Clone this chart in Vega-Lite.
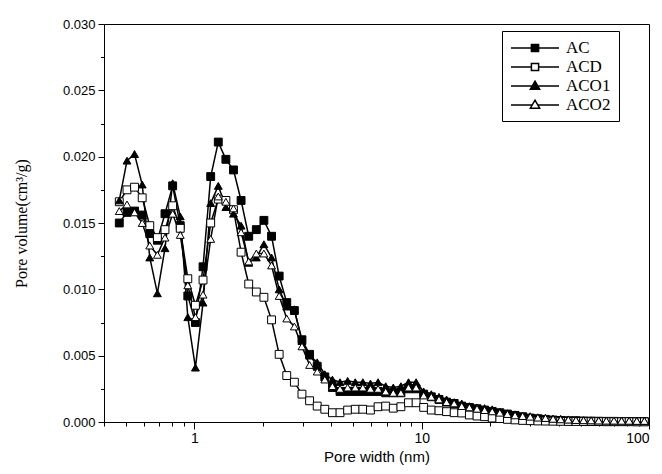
{
  "$schema": "https://vega.github.io/schema/vega-lite/v6.json",
  "width": 545,
  "height": 398,
  "autosize": {"type": "none"},
  "padding": {"left": 104, "top": 24, "right": 13, "bottom": 52},
  "background": "white",
  "config": {
    "view": {"stroke": "black", "strokeWidth": 1},
    "axis": {"domainColor": "black", "tickColor": "black", "labelColor": "black", "titleColor": "black", "grid": false, "domainWidth": 1, "tickWidth": 1}
  },
  "data": {"values": [
    {"s":"AC","x":0.467,"v":0.0150},{"s":"AC","x":0.505,"v":0.0158},{"s":"AC","x":0.545,"v":0.0159},{"s":"AC","x":0.589,"v":0.0156},{"s":"AC","x":0.636,"v":0.0142},{"s":"AC","x":0.687,"v":0.0137},{"s":"AC","x":0.742,"v":0.0157},{"s":"AC","x":0.802,"v":0.0178},{"s":"AC","x":0.866,"v":0.0148},{"s":"AC","x":0.935,"v":0.0095},
    {"s":"AC","x":1.01,"v":0.0075},{"s":"AC","x":1.091,"v":0.0117},{"s":"AC","x":1.179,"v":0.0185},{"s":"AC","x":1.273,"v":0.0211},{"s":"AC","x":1.375,"v":0.0198},{"s":"AC","x":1.485,"v":0.0190},{"s":"AC","x":1.604,"v":0.0167},{"s":"AC","x":1.733,"v":0.0140},{"s":"AC","x":1.872,"v":0.0145},{"s":"AC","x":2.021,"v":0.0152},
    {"s":"AC","x":2.184,"v":0.0140},{"s":"AC","x":2.359,"v":0.0110},{"s":"AC","x":2.548,"v":0.0090},{"s":"AC","x":2.752,"v":0.0084},{"s":"AC","x":2.972,"v":0.0062},{"s":"AC","x":3.211,"v":0.0051},{"s":"AC","x":3.468,"v":0.0042},{"s":"AC","x":3.746,"v":0.0034},{"s":"AC","x":4.046,"v":0.0026},{"s":"AC","x":4.37,"v":0.0023},
    {"s":"AC","x":4.721,"v":0.0023},{"s":"AC","x":5.099,"v":0.0023},{"s":"AC","x":5.508,"v":0.0023},{"s":"AC","x":5.949,"v":0.0023},{"s":"AC","x":6.426,"v":0.0023},{"s":"AC","x":6.941,"v":0.0022},{"s":"AC","x":7.497,"v":0.0022},{"s":"AC","x":8.098,"v":0.0022},{"s":"AC","x":8.747,"v":0.0025},{"s":"AC","x":9.447,"v":0.0025},
    {"s":"AC","x":10.2,"v":0.0021},{"s":"AC","x":11.02,"v":0.0019},{"s":"AC","x":11.91,"v":0.0017},{"s":"AC","x":12.86,"v":0.0015},{"s":"AC","x":13.89,"v":0.0014},{"s":"AC","x":15.0,"v":0.0012},{"s":"AC","x":16.21,"v":0.0011},{"s":"AC","x":17.51,"v":0.0010},{"s":"AC","x":18.91,"v":0.0009},{"s":"AC","x":20.42,"v":0.0008},
    {"s":"AC","x":22.06,"v":0.0007},{"s":"AC","x":23.83,"v":0.0006},{"s":"AC","x":25.74,"v":0.0005},{"s":"AC","x":27.8,"v":0.0004},{"s":"AC","x":30.03,"v":0.0003},{"s":"AC","x":32.43,"v":0.00025},{"s":"AC","x":35.03,"v":0.0002},{"s":"AC","x":37.84,"v":0.00015},{"s":"AC","x":40.87,"v":0.00012},{"s":"AC","x":44.15,"v":0.0001},
    {"s":"AC","x":47.69,"v":0.0001},{"s":"AC","x":51.51,"v":0.00008},{"s":"AC","x":55.64,"v":0.00007},{"s":"AC","x":60.09,"v":0.00006},{"s":"AC","x":64.91,"v":0.00005},{"s":"AC","x":70.11,"v":0.00005},{"s":"AC","x":75.73,"v":0.00004},{"s":"AC","x":81.8,"v":0.00004},{"s":"AC","x":88.35,"v":0.00003},{"s":"AC","x":95.43,"v":0.00003},

    {"s":"ACD","x":0.467,"v":0.0166},{"s":"ACD","x":0.505,"v":0.0175},{"s":"ACD","x":0.545,"v":0.0177},{"s":"ACD","x":0.589,"v":0.0169},{"s":"ACD","x":0.636,"v":0.0148},{"s":"ACD","x":0.687,"v":0.0139},{"s":"ACD","x":0.742,"v":0.0145},{"s":"ACD","x":0.802,"v":0.0163},{"s":"ACD","x":0.866,"v":0.0146},{"s":"ACD","x":0.935,"v":0.0108},
    {"s":"ACD","x":1.01,"v":0.0088},{"s":"ACD","x":1.091,"v":0.0107},{"s":"ACD","x":1.179,"v":0.0150},{"s":"ACD","x":1.273,"v":0.0168},{"s":"ACD","x":1.375,"v":0.0167},{"s":"ACD","x":1.485,"v":0.0160},{"s":"ACD","x":1.604,"v":0.0128},{"s":"ACD","x":1.733,"v":0.0104},{"s":"ACD","x":1.872,"v":0.0098},{"s":"ACD","x":2.021,"v":0.0094},
    {"s":"ACD","x":2.184,"v":0.0077},{"s":"ACD","x":2.359,"v":0.0051},{"s":"ACD","x":2.548,"v":0.0035},{"s":"ACD","x":2.752,"v":0.0030},{"s":"ACD","x":2.972,"v":0.0021},{"s":"ACD","x":3.211,"v":0.0016},{"s":"ACD","x":3.468,"v":0.0012},{"s":"ACD","x":3.746,"v":0.00096},{"s":"ACD","x":4.046,"v":0.0007},{"s":"ACD","x":4.37,"v":0.0007},
    {"s":"ACD","x":4.721,"v":0.0009},{"s":"ACD","x":5.099,"v":0.00096},{"s":"ACD","x":5.508,"v":0.00096},{"s":"ACD","x":5.949,"v":0.0009},{"s":"ACD","x":6.426,"v":0.00115},{"s":"ACD","x":6.941,"v":0.0012},{"s":"ACD","x":7.497,"v":0.00104},{"s":"ACD","x":8.098,"v":0.00115},{"s":"ACD","x":8.747,"v":0.00145},{"s":"ACD","x":9.447,"v":0.00145},
    {"s":"ACD","x":10.2,"v":0.0011},{"s":"ACD","x":11.02,"v":0.0009},{"s":"ACD","x":11.91,"v":0.00085},{"s":"ACD","x":12.86,"v":0.00078},{"s":"ACD","x":13.89,"v":0.0007},{"s":"ACD","x":15.0,"v":0.00068},{"s":"ACD","x":16.21,"v":0.00053},{"s":"ACD","x":17.51,"v":0.00045},{"s":"ACD","x":18.91,"v":0.0004},{"s":"ACD","x":20.42,"v":0.0003},
    {"s":"ACD","x":22.06,"v":0.00026},{"s":"ACD","x":23.83,"v":0.0002},{"s":"ACD","x":25.74,"v":0.00016},{"s":"ACD","x":27.8,"v":0.00012},{"s":"ACD","x":30.03,"v":0.0001},{"s":"ACD","x":32.43,"v":0.00008},{"s":"ACD","x":35.03,"v":0.00007},{"s":"ACD","x":37.84,"v":0.00006},{"s":"ACD","x":40.87,"v":0.00005},{"s":"ACD","x":44.15,"v":0.00004},
    {"s":"ACD","x":47.69,"v":0.00004},{"s":"ACD","x":51.51,"v":0.00003},{"s":"ACD","x":55.64,"v":0.00003},{"s":"ACD","x":60.09,"v":0.00003},{"s":"ACD","x":64.91,"v":0.00002},{"s":"ACD","x":70.11,"v":0.00002},{"s":"ACD","x":75.73,"v":0.00002},{"s":"ACD","x":81.8,"v":0.00002},{"s":"ACD","x":88.35,"v":0.00001},{"s":"ACD","x":95.43,"v":0.00001},

    {"s":"ACO1","x":0.467,"v":0.0167},{"s":"ACO1","x":0.505,"v":0.0197},{"s":"ACO1","x":0.545,"v":0.0202},{"s":"ACO1","x":0.589,"v":0.0179},{"s":"ACO1","x":0.636,"v":0.0124},{"s":"ACO1","x":0.687,"v":0.0097},{"s":"ACO1","x":0.742,"v":0.0131},{"s":"ACO1","x":0.802,"v":0.0180},{"s":"ACO1","x":0.866,"v":0.0155},{"s":"ACO1","x":0.935,"v":0.0079},
    {"s":"ACO1","x":1.01,"v":0.0041},{"s":"ACO1","x":1.091,"v":0.0090},{"s":"ACO1","x":1.179,"v":0.0165},{"s":"ACO1","x":1.273,"v":0.0178},{"s":"ACO1","x":1.375,"v":0.0162},{"s":"ACO1","x":1.485,"v":0.0157},{"s":"ACO1","x":1.604,"v":0.0148},{"s":"ACO1","x":1.733,"v":0.0120},{"s":"ACO1","x":1.872,"v":0.0124},{"s":"ACO1","x":2.021,"v":0.0134},
    {"s":"ACO1","x":2.184,"v":0.0124},{"s":"ACO1","x":2.359,"v":0.0100},{"s":"ACO1","x":2.548,"v":0.0087},{"s":"ACO1","x":2.752,"v":0.0085},{"s":"ACO1","x":2.972,"v":0.0061},{"s":"ACO1","x":3.211,"v":0.0050},{"s":"ACO1","x":3.468,"v":0.0045},{"s":"ACO1","x":3.746,"v":0.0036},{"s":"ACO1","x":4.046,"v":0.0032},{"s":"ACO1","x":4.37,"v":0.0030},
    {"s":"ACO1","x":4.721,"v":0.0031},{"s":"ACO1","x":5.099,"v":0.0030},{"s":"ACO1","x":5.508,"v":0.0030},{"s":"ACO1","x":5.949,"v":0.0029},{"s":"ACO1","x":6.426,"v":0.0030},{"s":"ACO1","x":6.941,"v":0.0027},{"s":"ACO1","x":7.497,"v":0.0026},{"s":"ACO1","x":8.098,"v":0.0027},{"s":"ACO1","x":8.747,"v":0.0030},{"s":"ACO1","x":9.447,"v":0.0030},
    {"s":"ACO1","x":10.2,"v":0.0023},{"s":"ACO1","x":11.02,"v":0.0021},{"s":"ACO1","x":11.91,"v":0.0019},{"s":"ACO1","x":12.86,"v":0.0017},{"s":"ACO1","x":13.89,"v":0.0015},{"s":"ACO1","x":15.0,"v":0.0014},{"s":"ACO1","x":16.21,"v":0.0012},{"s":"ACO1","x":17.51,"v":0.0011},{"s":"ACO1","x":18.91,"v":0.00105},{"s":"ACO1","x":20.42,"v":0.00096},
    {"s":"ACO1","x":22.06,"v":0.00078},{"s":"ACO1","x":23.83,"v":0.00066},{"s":"ACO1","x":25.74,"v":0.00058},{"s":"ACO1","x":27.8,"v":0.00048},{"s":"ACO1","x":30.03,"v":0.00044},{"s":"ACO1","x":32.43,"v":0.00036},{"s":"ACO1","x":35.03,"v":0.00032},{"s":"ACO1","x":37.84,"v":0.00026},{"s":"ACO1","x":40.87,"v":0.00024},{"s":"ACO1","x":44.15,"v":0.0002},
    {"s":"ACO1","x":47.69,"v":0.00016},{"s":"ACO1","x":51.51,"v":0.00014},{"s":"ACO1","x":55.64,"v":0.00013},{"s":"ACO1","x":60.09,"v":0.00012},{"s":"ACO1","x":64.91,"v":0.00011},{"s":"ACO1","x":70.11,"v":0.0001},{"s":"ACO1","x":75.73,"v":0.0001},{"s":"ACO1","x":81.8,"v":0.00009},{"s":"ACO1","x":88.35,"v":0.00009},{"s":"ACO1","x":95.43,"v":0.00008},

    {"s":"ACO2","x":0.467,"v":0.0159},{"s":"ACO2","x":0.505,"v":0.0164},{"s":"ACO2","x":0.545,"v":0.0158},{"s":"ACO2","x":0.589,"v":0.0150},{"s":"ACO2","x":0.636,"v":0.0133},{"s":"ACO2","x":0.687,"v":0.0126},{"s":"ACO2","x":0.742,"v":0.0139},{"s":"ACO2","x":0.802,"v":0.0157},{"s":"ACO2","x":0.866,"v":0.0141},{"s":"ACO2","x":0.935,"v":0.0103},
    {"s":"ACO2","x":1.01,"v":0.0079},{"s":"ACO2","x":1.091,"v":0.0096},{"s":"ACO2","x":1.179,"v":0.0138},{"s":"ACO2","x":1.273,"v":0.0170},{"s":"ACO2","x":1.375,"v":0.0166},{"s":"ACO2","x":1.485,"v":0.0161},{"s":"ACO2","x":1.604,"v":0.0143},{"s":"ACO2","x":1.733,"v":0.0121},{"s":"ACO2","x":1.872,"v":0.0127},{"s":"ACO2","x":2.021,"v":0.0127},
    {"s":"ACO2","x":2.184,"v":0.0118},{"s":"ACO2","x":2.359,"v":0.0095},{"s":"ACO2","x":2.548,"v":0.0078},{"s":"ACO2","x":2.752,"v":0.0072},{"s":"ACO2","x":2.972,"v":0.0057},{"s":"ACO2","x":3.211,"v":0.0043},{"s":"ACO2","x":3.468,"v":0.0038},{"s":"ACO2","x":3.746,"v":0.0032},{"s":"ACO2","x":4.046,"v":0.0027},{"s":"ACO2","x":4.37,"v":0.0025},
    {"s":"ACO2","x":4.721,"v":0.0026},{"s":"ACO2","x":5.099,"v":0.0026},{"s":"ACO2","x":5.508,"v":0.0026},{"s":"ACO2","x":5.949,"v":0.0025},{"s":"ACO2","x":6.426,"v":0.0025},{"s":"ACO2","x":6.941,"v":0.0023},{"s":"ACO2","x":7.497,"v":0.0022},{"s":"ACO2","x":8.098,"v":0.0022},{"s":"ACO2","x":8.747,"v":0.0026},{"s":"ACO2","x":9.447,"v":0.0026},
    {"s":"ACO2","x":10.2,"v":0.0020},{"s":"ACO2","x":11.02,"v":0.0019},{"s":"ACO2","x":11.91,"v":0.0017},{"s":"ACO2","x":12.86,"v":0.0015},{"s":"ACO2","x":13.89,"v":0.0014},{"s":"ACO2","x":15.0,"v":0.0012},{"s":"ACO2","x":16.21,"v":0.0011},{"s":"ACO2","x":17.51,"v":0.0010},{"s":"ACO2","x":18.91,"v":0.0009},{"s":"ACO2","x":20.42,"v":0.0008},
    {"s":"ACO2","x":22.06,"v":0.0007},{"s":"ACO2","x":23.83,"v":0.0006},{"s":"ACO2","x":25.74,"v":0.0005},{"s":"ACO2","x":27.8,"v":0.00045},{"s":"ACO2","x":30.03,"v":0.0004},{"s":"ACO2","x":32.43,"v":0.00033},{"s":"ACO2","x":35.03,"v":0.0003},{"s":"ACO2","x":37.84,"v":0.00024},{"s":"ACO2","x":40.87,"v":0.0002},{"s":"ACO2","x":44.15,"v":0.00018},
    {"s":"ACO2","x":47.69,"v":0.00015},{"s":"ACO2","x":51.51,"v":0.00013},{"s":"ACO2","x":55.64,"v":0.00012},{"s":"ACO2","x":60.09,"v":0.00011},{"s":"ACO2","x":64.91,"v":0.0001},{"s":"ACO2","x":70.11,"v":0.0001},{"s":"ACO2","x":75.73,"v":0.00009},{"s":"ACO2","x":81.8,"v":0.00009},{"s":"ACO2","x":88.35,"v":0.00008},{"s":"ACO2","x":95.43,"v":0.00008}
  ]},
  "resolve": {"axis": {"x": "independent", "y": "independent"}, "scale": {"shape": "independent", "fill": "independent"}},
  "layer": [
    {
      "mark": {"type": "line", "color": "black", "strokeWidth": 1.5},
      "encoding": {
        "x": {"field": "x", "type": "quantitative", "scale": {"type": "log", "domain": [0.4, 100], "nice": false},
          "axis": {"orient": "bottom", "values": [1, 10, 100], "format": "~g", "tickSize": 7, "labelPadding": 2, "labelFont": "Liberation Sans", "labelFontSize": 14, "title": "Pore width (nm)", "titleFont": "Liberation Sans", "titleFontSize": 15, "titleFontWeight": "normal", "titlePadding": 4}},
        "y": {"field": "v", "type": "quantitative", "scale": {"domain": [0, 0.03], "nice": false, "zero": false},
          "axis": {"orient": "left", "values": [0,0.005,0.01,0.015,0.02,0.025,0.03], "format": ".3f", "tickSize": 6, "labelPadding": 3, "labelFont": "Liberation Sans", "labelFontSize": 13, "title": "Pore volume(cm³/g)", "titleFont": "Liberation Serif", "titleFontSize": 16, "titleFontWeight": "normal", "titlePadding": 33}},
        "detail": {"field": "s"}
      }
    },
    {
      "mark": {"type": "point", "opacity": 1, "filled": true, "stroke": "black", "strokeWidth": 1, "size": 62},
      "encoding": {
        "x": {"field": "x", "type": "quantitative", "scale": {"type": "log", "domain": [0.4, 100], "nice": false}, "axis": null},
        "y": {"field": "v", "type": "quantitative", "scale": {"domain": [0, 0.03], "nice": false, "zero": false}, "axis": null},
        "shape": {"field": "s", "type": "nominal", "scale": {"domain": ["AC","ACD","ACO1","ACO2"], "range": ["square","square","triangle-up","triangle-up"]}, "legend": null},
        "fill": {"field": "s", "type": "nominal", "scale": {"domain": ["AC","ACD","ACO1","ACO2"], "range": ["black","white","black","white"]}, "legend": null}
      }
    },
    {
      "transform": [{"filter": "datum.v < 0"}],
      "mark": {"type": "point", "opacity": 1, "filled": true, "stroke": "black", "strokeWidth": 1.5, "size": 256},
      "encoding": {
        "x": {"field": "x", "type": "quantitative", "scale": {"type": "log", "domain": [0.4, 100], "nice": false}, "axis": null},
        "y": {"field": "v", "type": "quantitative", "scale": {"domain": [0, 0.03], "nice": false, "zero": false}, "axis": null},
        "shape": {"field": "s", "type": "nominal", "scale": {"domain": ["AC","ACD","ACO1","ACO2"], "range": ["M-1,0H1.55M2.45,0H5M1.55,-0.45H2.45V0.45H1.55Z","M-1,0H1.55M2.45,0H5M1.55,-0.45H2.45V0.45H1.55Z","M-1,0H1.65M2.35,0H5M2,-0.6L2.58,0.4H1.42Z","M-1,0H1.65M2.35,0H5M2,-0.6L2.58,0.4H1.42Z"]},
          "legend": {"title": null, "orient": "none", "legendX": 398, "legendY": 7, "padding": 8, "rowPadding": 2, "labelFont": "Liberation Serif", "labelFontSize": 17, "labelColor": "black", "labelOffset": 38, "strokeColor": "black", "fillColor": "white", "symbolSize": 256,
            "encode": {"symbols": {"stroke": {"value": "black"}, "strokeWidth": {"value": 1.5}, "opacity": {"value": 1}}}}},
        "fill": {"field": "s", "type": "nominal", "scale": {"domain": ["AC","ACD","ACO1","ACO2"], "range": ["black","white","black","white"]},
          "legend": {"title": null, "orient": "none", "legendX": 398, "legendY": 7, "padding": 8, "rowPadding": 2, "labelFont": "Liberation Serif", "labelFontSize": 17, "labelColor": "black", "labelOffset": 38, "strokeColor": "black", "fillColor": "white", "symbolSize": 256,
            "encode": {"symbols": {"stroke": {"value": "black"}, "strokeWidth": {"value": 1.5}, "opacity": {"value": 1}}}}}
      }
    },
    {
      "mark": {"type": "text", "text": ""},
      "encoding": {
        "x": {"field": "x", "type": "quantitative", "scale": {"type": "log", "domain": [0.4, 100], "nice": false},
          "axis": {"orient": "bottom", "values": [0.4,0.5,0.6,0.7,0.8,0.9,2,3,4,5,6,7,8,9,20,30,40,50,60,70,80,90], "labels": false, "domain": false, "tickSize": 4, "title": null}},
        "y": {"field": "v", "type": "quantitative", "scale": {"domain": [0, 0.03], "nice": false, "zero": false},
          "axis": {"orient": "left", "values": [0.0025,0.0075,0.0125,0.0175,0.0225,0.0275], "labels": false, "domain": false, "tickSize": 3.5, "title": null}}
      }
    }
  ]
}
